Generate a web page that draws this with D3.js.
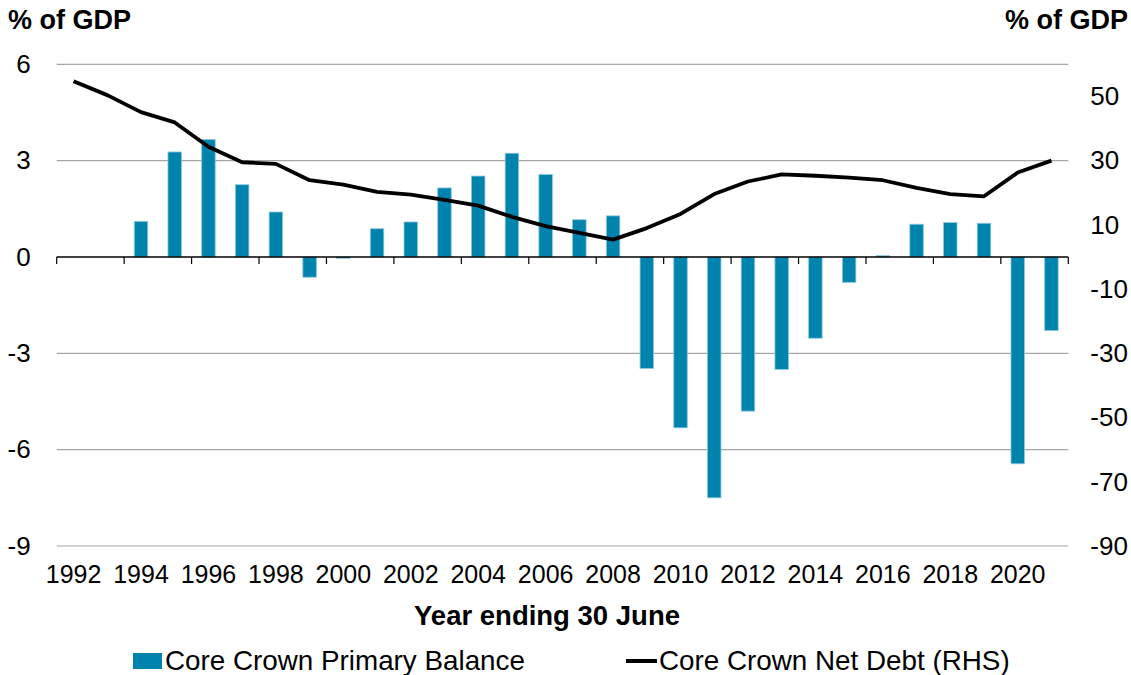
<!DOCTYPE html>
<html>
<head>
<meta charset="utf-8">
<script src="https://cdn.jsdelivr.net/npm/d3@7"></script>
<style>
  body { margin: 0; background: #fff; }
  svg { font-family: "Liberation Sans", Arial, sans-serif; }
</style>
</head>
<body>
<div id="chart"></div>
<script>
// data
const years = d3.range(1992, 2022);
const primaryBalance = [null, null, 1.11, 3.27, 3.66, 2.25, 1.40, -0.63, -0.04, 0.88,
  1.09, 2.15, 2.52, 3.23, 2.57, 1.16, 1.28, -3.47, -5.32, -7.50,
  -4.80, -3.50, -2.53, -0.79, 0.04, 1.02, 1.07, 1.05, -6.44, -2.29];
const netDebt = [54.7, 50.4, 45.1, 41.9, 34.3, 29.5, 29.0, 23.9, 22.5, 20.3,
  19.4, 17.8, 16.0, 12.5, 9.6, 7.5, 5.4, 9.0, 13.4, 19.6,
  23.5, 25.7, 25.3, 24.7, 23.9, 21.5, 19.6, 18.9, 26.3, 30.0];
const leftTicks = [-9, -6, -3, 0, 3, 6];
const rightTicks = [-90, -70, -50, -30, -10, 10, 30, 50];
const xLabelYears = years.filter(y => y % 2 === 0);

const w = 1131, h = 675;
const plotL = 56.7, plotR = 1068.3, plotT = 64.3, plotB = 546;
const barColor = "#0083ad";

let svg = d3.select("#chart")
    .append("svg")
    .attr("width", w)
    .attr("height", h);

let x = d3.scaleBand()
    .domain(years)
    .range([plotL, plotR])
    .paddingInner(0.6)
    .paddingOuter(0.3);
let yL = d3.scaleLinear().domain([-9, 6]).range([plotB, plotT]);
let yR = d3.scaleLinear().domain([-90, 60]).range([plotB, plotT]);

// plain hyphen for negatives, like the original
let fmt = d => String(d);

// gridlines
svg.append("g")
    .selectAll("line")
    .data(leftTicks.filter(d => d !== 0))
    .enter()
    .append("line")
    .attr("x1", plotL)
    .attr("x2", plotR)
    .attr("y1", d => yL(d))
    .attr("y2", d => yL(d))
    .attr("stroke", "#a6a6a6")
    .attr("stroke-width", 1.2);

// left axis labels
svg.append("g")
    .attr("transform", "translate(" + (plotL - 26) + ",0)")
    .call(d3.axisLeft(yL).tickValues(leftTicks).tickFormat(fmt).tickSize(0).tickPadding(0))
    .call(g => g.select(".domain").remove())
    .selectAll("text")
    .attr("font-size", "26px")
    .attr("font-family", "Liberation Sans, Arial, sans-serif")
    .attr("fill", "#000");

// right axis labels
svg.append("g")
    .attr("transform", "translate(" + (plotR + 22) + ",0)")
    .call(d3.axisRight(yR).tickValues(rightTicks).tickFormat(fmt).tickSize(0).tickPadding(0))
    .call(g => g.select(".domain").remove())
    .selectAll("text")
    .attr("font-size", "26px")
    .attr("font-family", "Liberation Sans, Arial, sans-serif")
    .attr("fill", "#000");

// bars
svg.append("g")
    .selectAll("rect")
    .data(years.map((y, i) => ({year: y, value: primaryBalance[i]})).filter(d => d.value !== null))
    .enter()
    .append("rect")
    .attr("x", d => x(d.year))
    .attr("width", x.bandwidth())
    .attr("y", d => yL(Math.max(0, d.value)))
    .attr("height", d => Math.abs(yL(d.value) - yL(0)))
    .attr("fill", barColor)
    .attr("stroke", "#8cc8de")
    .attr("stroke-width", 0.8);

// zero axis with boundary ticks
let gap = (x.step() - x.bandwidth()) / 2;
svg.append("line")
    .attr("x1", plotL).attr("x2", plotR)
    .attr("y1", yL(0)).attr("y2", yL(0))
    .attr("stroke", "#000")
    .attr("stroke-width", 1.5);
let tickPos = xLabelYears.map(y => x(y) - gap).concat([plotR]);
svg.append("g")
    .selectAll("line")
    .data(tickPos)
    .enter()
    .append("line")
    .attr("x1", d => d).attr("x2", d => d)
    .attr("y1", yL(0)).attr("y2", yL(0) + 7)
    .attr("stroke", "#000")
    .attr("stroke-width", 1.2);

// x labels
svg.append("g")
    .attr("transform", "translate(0," + (plotB + 19) + ")")
    .call(d3.axisBottom(x).tickValues(xLabelYears).tickSize(0).tickPadding(0))
    .call(g => g.select(".domain").remove())
    .selectAll("text")
    .attr("font-size", "25px")
    .attr("font-family", "Liberation Sans, Arial, sans-serif")
    .attr("fill", "#000");

// net debt line
let line = d3.line()
    .x((d, i) => x(years[i]) + x.bandwidth() / 2)
    .y(d => yR(d));
svg.append("path")
    .datum(netDebt)
    .attr("fill", "none")
    .attr("stroke", "#000")
    .attr("stroke-width", 3.8)
    .attr("stroke-linejoin", "round")
    .attr("d", line);

// axis titles
svg.append("text")
    .text("% of GDP")
    .attr("x", 8).attr("y", 29)
    .attr("font-size", "27px").attr("font-weight", "bold");
svg.append("text")
    .text("% of GDP")
    .attr("x", 1128).attr("y", 29)
    .attr("text-anchor", "end")
    .attr("font-size", "27px").attr("font-weight", "bold");
svg.append("text")
    .text("Year ending 30 June")
    .attr("x", 547).attr("y", 625)
    .attr("text-anchor", "middle")
    .attr("font-size", "27.5px").attr("font-weight", "bold");

// legend
let legend = svg.append("g").attr("font-size", "27.8px");
legend.append("rect")
    .attr("x", 133).attr("y", 653)
    .attr("width", 29).attr("height", 16)
    .attr("fill", barColor);
legend.append("text")
    .text("Core Crown Primary Balance")
    .attr("x", 165).attr("y", 670);
legend.append("line")
    .attr("x1", 626).attr("x2", 657)
    .attr("y1", 661).attr("y2", 661)
    .attr("stroke", "#000")
    .attr("stroke-width", 4);
legend.append("text")
    .text("Core Crown Net Debt (RHS)")
    .attr("x", 659).attr("y", 670);
</script>
</body>
</html>
